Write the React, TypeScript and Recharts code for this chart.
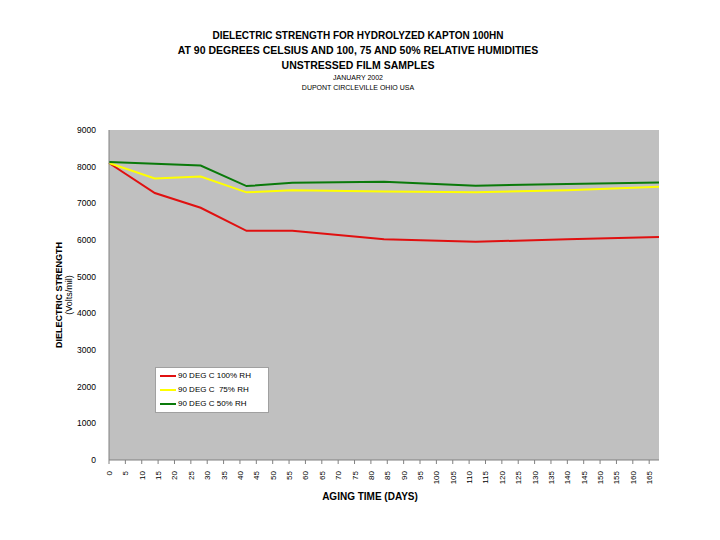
import { LineChart, Line, XAxis, YAxis, CartesianGrid } from "recharts";

const days = [0, 14, 28, 42, 56, 84, 112, 140, 168];
const rh100 = [8100, 7280, 6880, 6250, 6250, 6020, 5950, 6020, 6080];
const rh75 = [8100, 7680, 7730, 7300, 7360, 7320, 7300, 7360, 7450];
const rh50 = [8130, 8080, 8030, 7470, 7560, 7590, 7480, 7530, 7570];

const xTicks = [
  0, 5, 10, 15, 20, 25, 30, 35, 40, 45, 50, 55, 60, 65, 70, 75, 80, 85, 90,
  95, 100, 105, 110, 115, 120, 125, 130, 135, 140, 145, 150, 155, 160, 165,
];
const yTicks = [0, 1000, 2000, 3000, 4000, 5000, 6000, 7000, 8000, 9000];

const titleLines = [
  "DIELECTRIC STRENGTH FOR HYDROLYZED KAPTON 100HN",
  "AT 90 DEGREES CELSIUS AND 100, 75 AND 50% RELATIVE HUMIDITIES",
  "UNSTRESSED FILM SAMPLES",
];
const subLines = ["JANUARY 2002", "DUPONT CIRCLEVILLE OHIO USA"];

const seriesNames = ["90 DEG C 100% RH", "90 DEG C  75% RH", "90 DEG C 50% RH"];
const seriesColors = ["#e01010", "#ffff00", "#0a7a0a"];

const data = days.map((d, i) => ({
  day: d,
  rh100: rh100[i],
  rh75: rh75[i],
  rh50: rh50[i],
}));

const font = "'Liberation Sans', Arial, sans-serif";

function XTick({ x, y, payload }: any) {
  return (
    <g>
      <line x1={x} x2={x} y1={y - 8} y2={y - 4} stroke="#808080" />
      <text
        transform={`translate(${x + 3},${y + 3}) rotate(-90)`}
        textAnchor="end"
        fontSize={8}
        fontFamily={font}
        fill="#000"
      >
        {payload.value}
      </text>
    </g>
  );
}

function LegendBox() {
  return (
    <div
      style={{
        position: "absolute",
        left: 155,
        top: 367,
        background: "#fff",
        border: "1px solid #a0a0a0",
        padding: "1px 4px",
        width: 104,
        fontFamily: font,
        fontSize: 8,
        lineHeight: "14px",
      }}
    >
      {seriesNames.map((n, i) => (
        <div key={n} style={{ display: "flex", alignItems: "center" }}>
          <span
            style={{
              display: "inline-block",
              width: 16,
              height: 2,
              background: seriesColors[i],
              marginRight: 2,
            }}
          />
          <span style={{ whiteSpace: "pre" }}>{n}</span>
        </div>
      ))}
    </div>
  );
}

export default function App() {
  return (
    <div
      style={{
        position: "absolute",
        left: 0,
        top: 0,
        width: 720,
        height: 540,
        background: "#fff",
        fontFamily: font,
      }}
    >
      <div
        style={{
          position: "absolute",
          left: 158,
          width: 400,
          top: 28,
          textAlign: "center",
          fontWeight: "bold",
          color: "#000",
        }}
      >
        <div style={{ fontSize: 10, lineHeight: "15px" }}>{titleLines[0]}</div>
        <div style={{ fontSize: 10.5, lineHeight: "15px", whiteSpace: "nowrap" }}>
          {titleLines[1]}
        </div>
        <div style={{ fontSize: 10.5, lineHeight: "15px" }}>{titleLines[2]}</div>
        <div style={{ fontSize: 7, fontWeight: "normal", lineHeight: "10px" }}>
          {subLines[0]}
        </div>
        <div style={{ fontSize: 7, fontWeight: "normal", lineHeight: "10px" }}>
          {subLines[1]}
        </div>
      </div>
      <div
        style={{
          position: "absolute",
          left: 64,
          top: 295,
          transform: "translate(-50%, -50%) rotate(-90deg)",
          textAlign: "center",
          fontSize: 9,
          lineHeight: "10px",
          whiteSpace: "nowrap",
        }}
      >
        <div style={{ fontWeight: "bold" }}>DIELECTRIC STRENGTH</div>
        <div>(Volts/mil)</div>
      </div>
      <div
        style={{
          position: "absolute",
          left: 0,
          width: 740,
          top: 491,
          textAlign: "center",
          fontSize: 10,
          fontWeight: "bold",
        }}
      >
        AGING TIME (DAYS)
      </div>
      <LineChart
        width={720}
        height={540}
        data={data}
        margin={{ top: 130, right: 61, bottom: 40, left: 59 }}
      >
        <CartesianGrid horizontal={false} vertical={false} fill="#c0c0c0" />
        <XAxis
          dataKey="day"
          type="number"
          domain={[0, 168]}
          ticks={xTicks}
          interval={0}
          height={40}
          tick={<XTick />}
          tickLine={false}
          axisLine={{ stroke: "#808080" }}
        />
        <YAxis
          domain={[0, 9000]}
          ticks={yTicks}
          interval={0}
          width={50}
          tickLine={false}
          axisLine={{ stroke: "#808080" }}
          tick={{ fontSize: 8.5, fill: "#000", fontFamily: font }}
          tickMargin={7}
        />
        <Line
          type="linear"
          dataKey="rh100"
          name={seriesNames[0]}
          stroke={seriesColors[0]}
          strokeWidth={2}
          dot={false}
          isAnimationActive={false}
        />
        <Line
          type="linear"
          dataKey="rh75"
          name={seriesNames[1]}
          stroke={seriesColors[1]}
          strokeWidth={2}
          dot={false}
          isAnimationActive={false}
        />
        <Line
          type="linear"
          dataKey="rh50"
          name={seriesNames[2]}
          stroke={seriesColors[2]}
          strokeWidth={2}
          dot={false}
          isAnimationActive={false}
        />
      </LineChart>
      <LegendBox />
    </div>
  );
}
